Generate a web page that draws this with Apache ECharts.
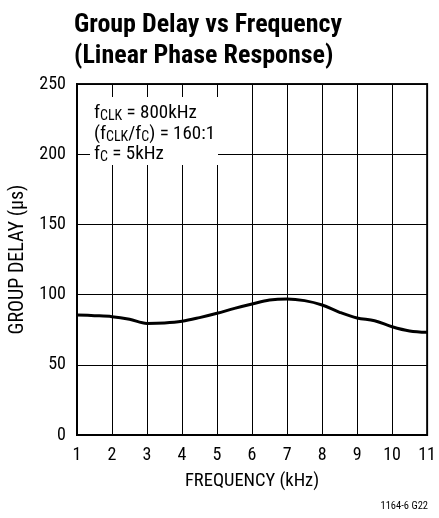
<!DOCTYPE html>
<html>
<head>
<meta charset="utf-8">
<script src="https://cdn.jsdelivr.net/npm/echarts@6/dist/echarts.min.js"></script>
<style>
html,body{margin:0;padding:0;background:#fff;}
#chart{width:439px;height:518px;}
</style>
</head>
<body>
<div id="chart"></div>
<script>
// Data
var frequencyKHz = [1, 1.5, 2, 2.5, 3, 3.5, 4, 4.5, 5, 5.5, 6, 6.5, 7, 7.5, 8, 8.5, 9, 9.5, 10, 10.5, 11];
var groupDelayUs = [85.5, 85, 84.3, 82.4, 79.5, 79.8, 81, 83.6, 86.7, 90.2, 93.3, 96.1, 96.9, 95.7, 92.6, 87.4, 83.3, 81.4, 77.1, 74.1, 73.1];
var xTicks = [1, 2, 3, 4, 5, 6, 7, 8, 9, 10, 11];
var yTicks = [0, 50, 100, 150, 200, 250];

var FONT = '"Roboto Condensed", "Liberation Sans Narrow", "Arial Narrow", "DejaVu Sans Condensed", sans-serif';

var seriesData = frequencyKHz.map(function (f, i) { return [f, groupDelayUs[i]]; });

var chart = echarts.init(document.getElementById('chart'), null, {renderer: 'canvas'});
chart.setOption({
  backgroundColor: '#fff',
  animation: false,
  title: {
    text: 'Group Delay vs Frequency\n(Linear Phase Response)',
    left: 69,
    top: 5,
    textStyle: {
      fontFamily: FONT,
      fontWeight: 'bold',
      fontSize: 26,
      lineHeight: 31,
      color: '#000'
    }
  },
  grid: {
    left: 77,
    right: 10,
    top: 84,
    bottom: 83,
    show: true,
    borderColor: '#111',
    borderWidth: 2,
    backgroundColor: 'transparent'
  },
  xAxis: {
    type: 'value',
    min: xTicks[0],
    max: xTicks[xTicks.length - 1],
    interval: 1,
    name: 'FREQUENCY (kHz)',
    nameLocation: 'middle',
    nameGap: 37,
    nameTextStyle: {fontFamily: FONT, fontSize: 18.5, color: '#000'},
    axisLine: {show: true, lineStyle: {color: '#000', width: 2}},
    axisTick: {show: false},
    axisLabel: {
      fontFamily: FONT, fontSize: 18, color: '#000', margin: 11,
      formatter: function (v) { return xTicks.indexOf(v) >= 0 ? String(v) : ''; }
    },
    splitLine: {show: true, lineStyle: {color: '#000', width: 1}}
  },
  yAxis: {
    type: 'value',
    min: yTicks[0],
    max: yTicks[yTicks.length - 1],
    interval: 50,
    name: 'GROUP DELAY (µs)',
    nameLocation: 'middle',
    nameGap: 47,
    nameTextStyle: {fontFamily: FONT, fontSize: 20, color: '#000'},
    axisLine: {show: true, lineStyle: {color: '#000', width: 2}},
    axisTick: {show: false},
    axisLabel: {
      fontFamily: FONT, fontSize: 18, color: '#000', margin: 11,
      formatter: function (v) { return yTicks.indexOf(v) >= 0 ? String(v) : ''; }
    },
    splitLine: {show: true, lineStyle: {color: '#000', width: 1}}
  },
  series: [{
    type: 'line',
    data: seriesData,
    smooth: 0.35,
    symbol: 'none',
    lineStyle: {color: '#000', width: 3},
    z: 3
  }],
  graphic: [
    {
      type: 'rect',
      left: 90, top: 97,
      shape: {width: 128, height: 68},
      style: {fill: '#fff'},
      z: 10
    },
    {
      type: 'text',
      left: 94, top: 104,
      z: 11,
      style: {
        text: '{m|f}{s|CLK}{m| = 800kHz}\n{m|(f}{s|CLK}{m|/f}{s|C}{m|) = 160:1}\n{m|f}{s|C}{m| = 5kHz}',
        fill: '#000',
        font: '19px ' + FONT,
        rich: {
          m: {fontFamily: FONT, fontSize: 19, lineHeight: 20.5, fill: '#000', color: '#000'},
          s: {fontFamily: FONT, fontSize: 14, lineHeight: 12, verticalAlign: 'bottom', fill: '#000', color: '#000'}
        }
      }
    },
    {
      type: 'text',
      right: 11, top: 501,
      style: {text: '1164-6 G22', font: '10.5px ' + FONT, fill: '#000'}
    }
  ]
});
</script>
</body>
</html>
